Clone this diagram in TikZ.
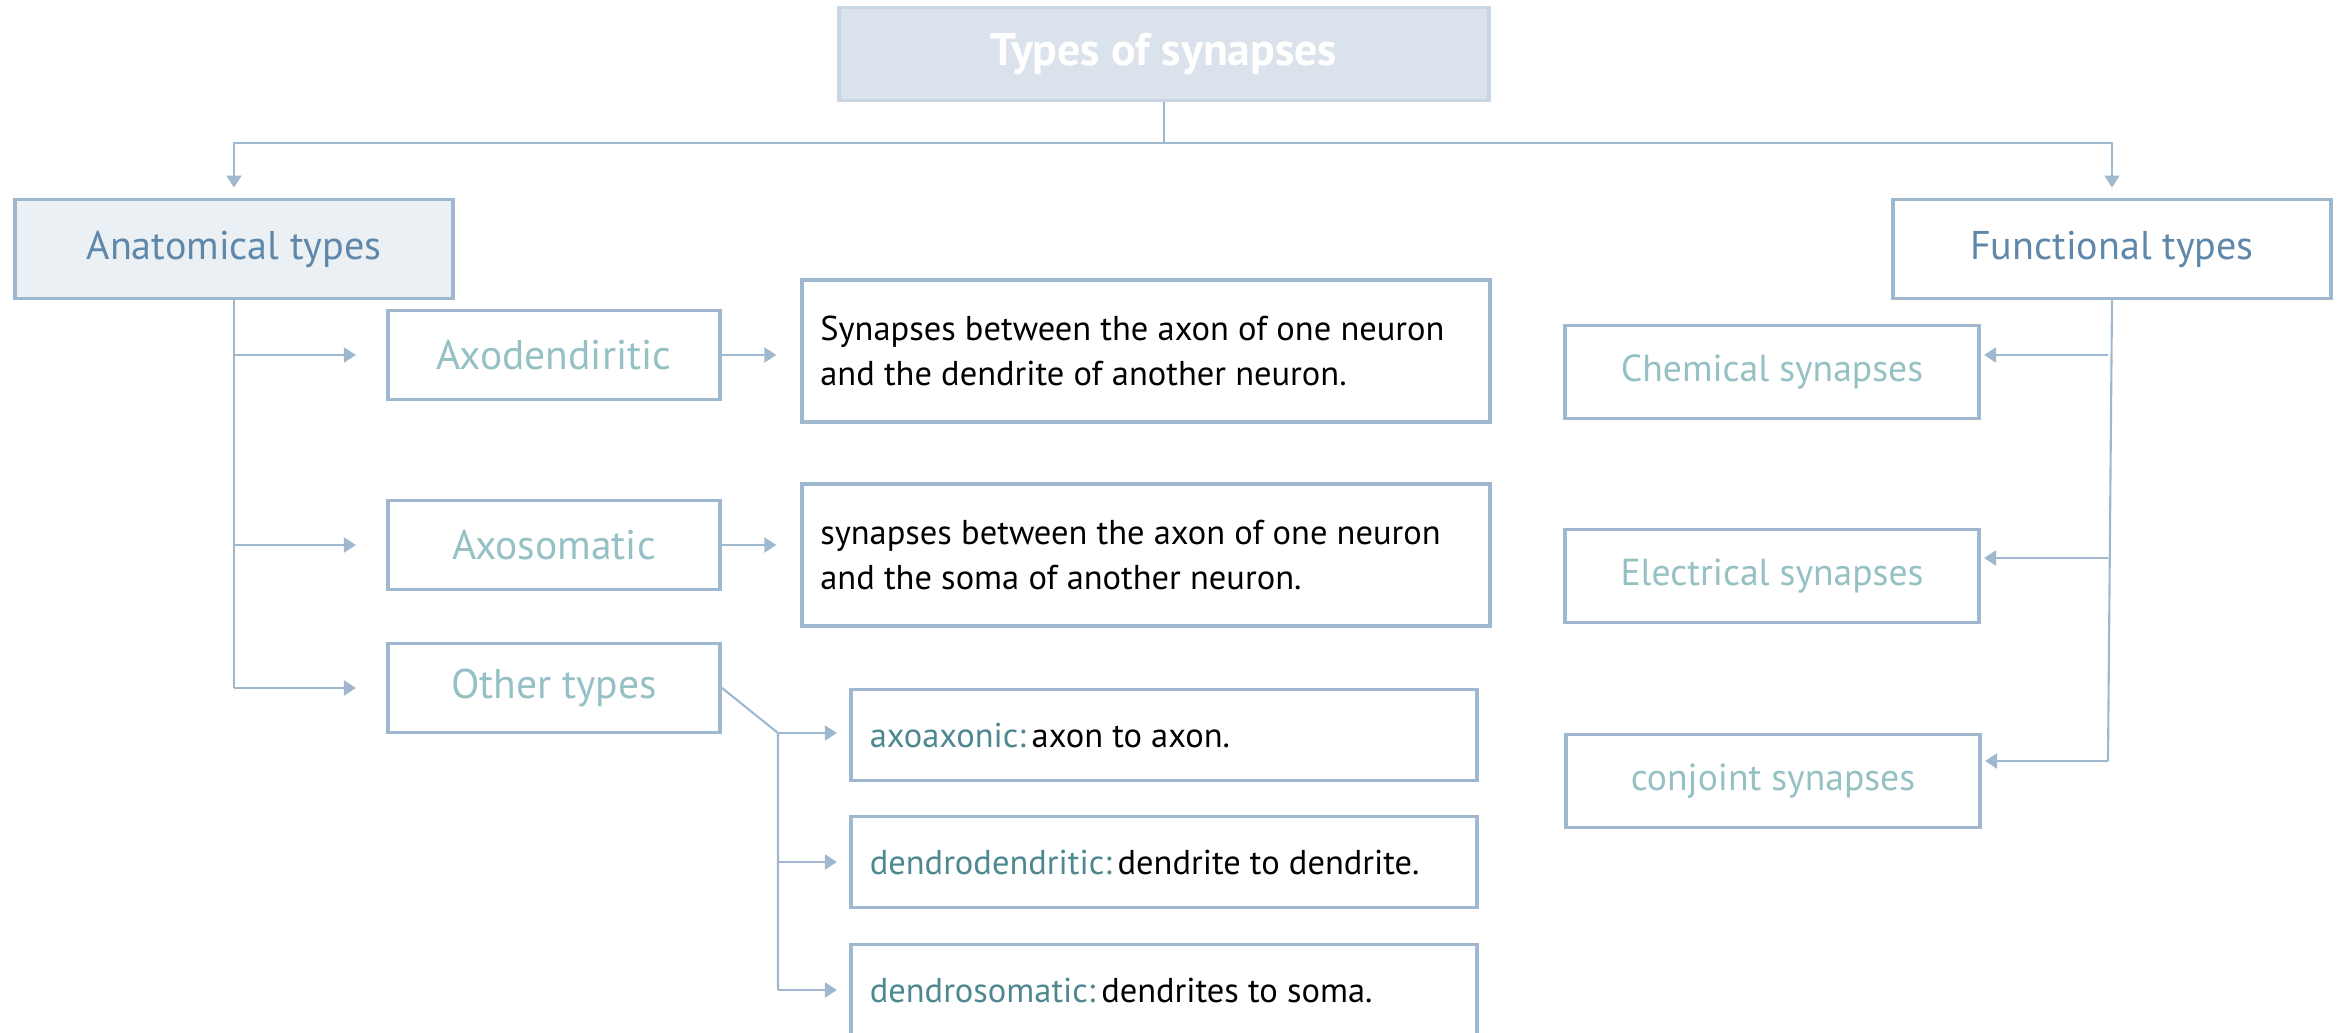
\documentclass[tikz,border=0pt]{standalone}
\usepackage{fontspec}
\setmainfont{PT Sans}
\usetikzlibrary{arrows.meta,positioning}

\definecolor{lineblue}{HTML}{9FB8CF}
\definecolor{titlefill}{HTML}{DAE3EC}
\definecolor{titleline}{HTML}{C9D6E2}
\definecolor{headfill}{HTML}{EBF0F5}
\definecolor{headtext}{HTML}{5F87AA}
\definecolor{lighttext}{HTML}{95C0C4}
\definecolor{tealtext}{HTML}{4D8890}

\begin{document}
\begin{tikzpicture}[x=0.01cm, y=-0.01cm,
    box/.style={rectangle, draw=lineblue, line width=1.1pt, inner sep=0pt},
    header/.style={box, minimum width=4.38cm, minimum height=0.99cm, text=headtext, font=\fontsize{11.4}{14}\selectfont},
    kind/.style={box, minimum width=3.32cm, minimum height=0.89cm, text=lighttext, font=\fontsize{11.8}{14}\selectfont},
    effect/.style={box, minimum width=4.14cm, minimum height=0.93cm, text=lighttext, font=\fontsize{10.7}{13}\selectfont},
    desc/.style={box, text width=6.51cm, inner xsep=0.18cm, minimum height=1.42cm, align=flush left, font=\fontsize{9.8}{12.8}\selectfont},
    example/.style={box, text width=5.88cm, inner xsep=0.19cm, minimum height=0.91cm, align=flush left, font=\fontsize{9.8}{12.8}\selectfont},
    link/.style={draw=lineblue, line width=0.6pt},
    arrow/.style={link, -{Triangle[length=0.12cm, width=0.15cm]}}]

    \clip (0,0) rectangle (2341,1033);
    \useasboundingbox (0,0) rectangle (2341,1033);

    % Nodes
    \node[box, draw=titleline, fill=titlefill, minimum width=6.5cm, minimum height=0.93cm,
          text=white, font=\bfseries\fontsize{13}{15}\selectfont] (title) at (1164,54) {Types of synapses};

    \node[header, fill=headfill] (anat) at (234,249) {Anatomical types};
    \node[header] (func) at (2112,249) {Functional types};

    \node[kind] (axd) at (554,355) {Axodendiritic};
    \node[kind] (axs) at (554,545) {Axosomatic};
    \node[kind] (other) at (554,688) {Other types};

    \node[desc] (axdtxt) at (1146,351) {Synapses between the axon of one neuron\\and the dendrite of another neuron.};
    \node[desc] (axstxt) at (1146,555) {synapses between the axon of one neuron\\and the soma of another neuron.};

    \node[example] (axax) at (1164,735) {\textcolor{tealtext}{axoaxonic:}\,axon to axon.};
    \node[example] (dede) at (1164,862) {\textcolor{tealtext}{dendrodendritic:}\,dendrite to dendrite.};
    \node[example] (deso) at (1164,990) {\textcolor{tealtext}{dendrosomatic:}\,dendrites to soma.};

    \node[effect] (chem) at (1772,372) {Chemical synapses};
    \node[effect] (elec) at (1772,576) {Electrical synapses};
    \node[effect] (conj) at (1773,781) {conjoint synapses};

    % Branch points
    \coordinate (split) at (1164,143);
    \coordinate (l1) at (234,355);
    \coordinate (l2) at (234,545);
    \coordinate (l3) at (234,688);
    \coordinate (knee) at (778,733);
    \coordinate (o2) at (778,862);
    \coordinate (o3) at (778,990);
    \coordinate (r1) at (2108,355);
    \coordinate (r2) at (2108,558);
    \coordinate (r3) at (2108,761);

    % Edges
    \draw[link] (title.south) -- (split);
    \draw[arrow, shorten >=0.1cm] (split) -| (anat.north);
    \draw[arrow, shorten >=0.1cm] (split) -| (func.north);

    \draw[link] (anat.south) -- (l3);
    \foreach \from/\to in {l1/axd, l2/axs, l3/other} {
        \draw[arrow, shorten >=0.3cm] (\from) -- (\to.west);
    }
    \draw[arrow, shorten >=0.24cm] (axd.east) -- (axdtxt.west |- axd.east);
    \draw[arrow, shorten >=0.24cm] (axs.east) -- (axstxt.west |- axs.east);

    \draw[link] (other.east) -- (knee) -- (o3);
    \foreach \from/\to in {knee/axax, o2/dede, o3/deso} {
        \draw[arrow, shorten >=0.12cm] (\from) -- (\to.west |- \from);
    }

    \draw[link] (func.south) -- (r3);
    \foreach \from/\to in {r1/chem, r2/elec, r3/conj} {
        \draw[arrow, shorten >=0.03cm] (\from) -- (\to.east |- \from);
    }
\end{tikzpicture}
\end{document}
